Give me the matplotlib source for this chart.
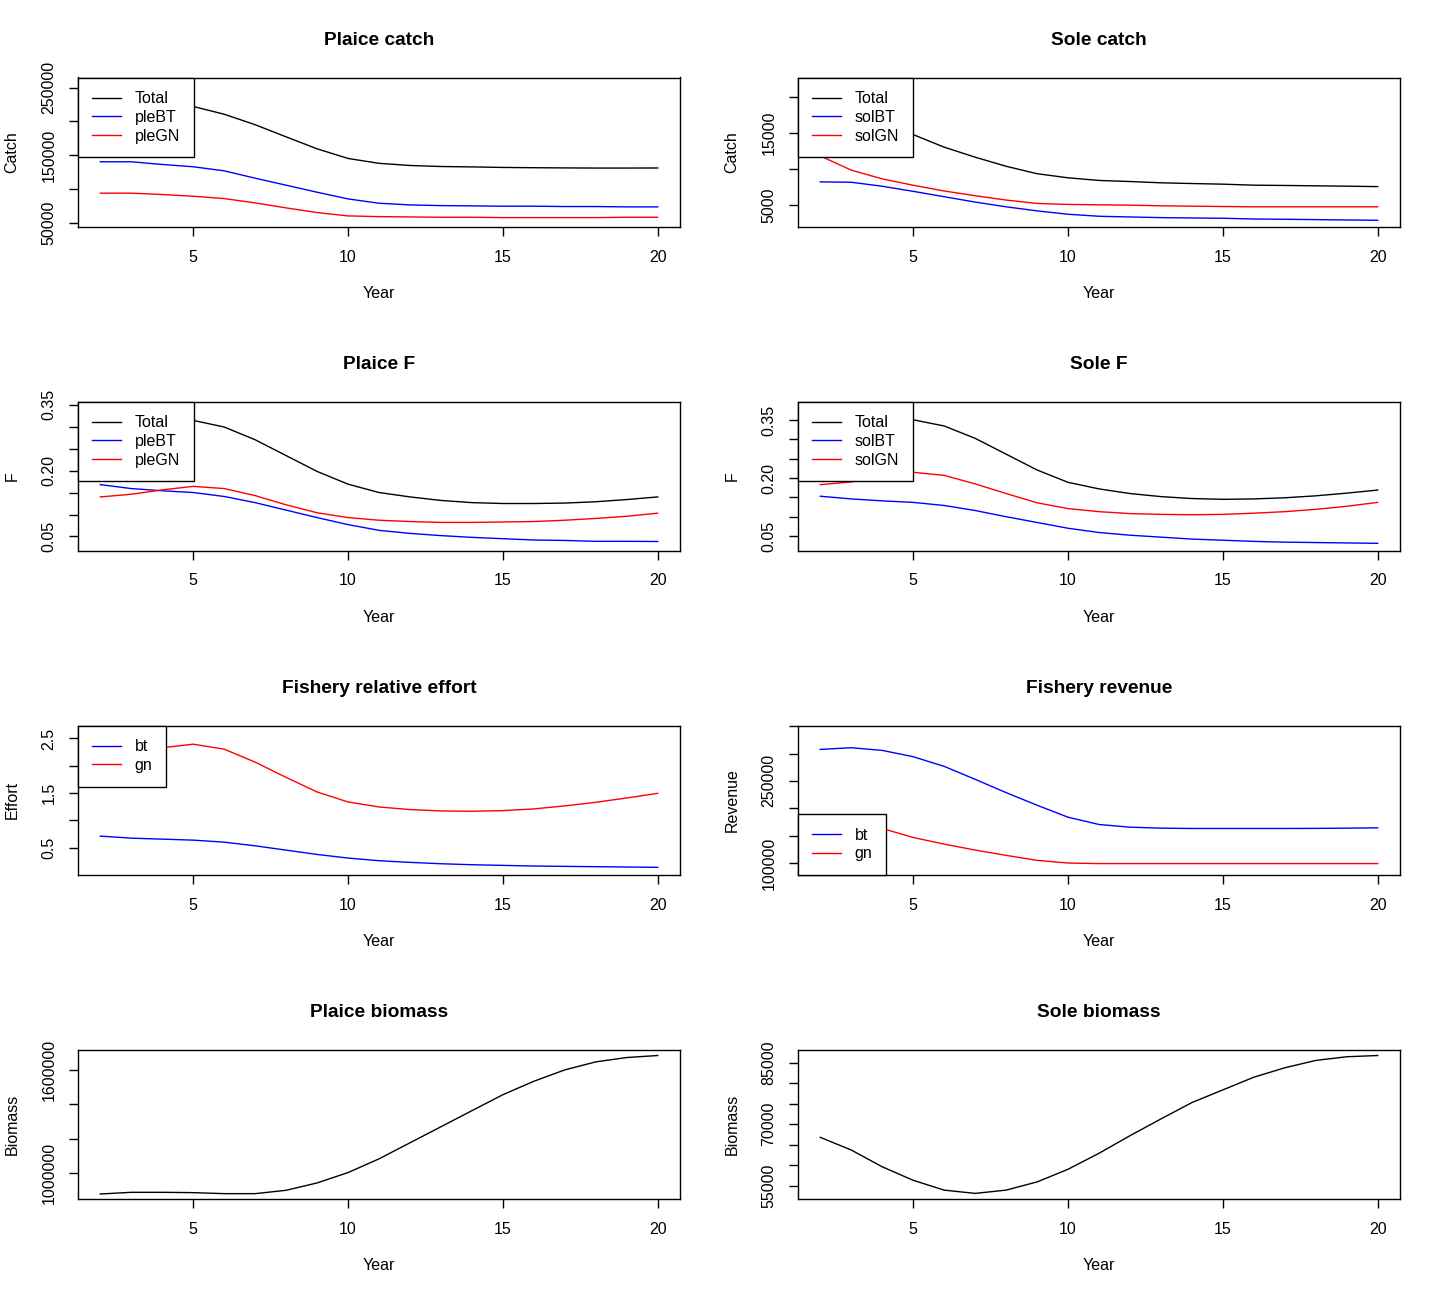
import numpy as np
import matplotlib.pyplot as plt

plt.rcParams['font.family'] = ['Liberation Sans', 'DejaVu Sans']

years = np.arange(2, 21)

# Plaice catch
ple_catch_total = [233700, 233700, 227700, 222000, 210500, 195000, 177000, 159300, 145000,
                   137800, 134600, 133100, 132500, 131700, 131300, 131000, 130800, 130800, 130900]
ple_catch_bt = [140100, 140100, 136100, 132700, 126700, 115800, 105400, 95000, 85100,
                78700, 76200, 75200, 74800, 74300, 74300, 73800, 73800, 73300, 73300]
ple_catch_gn = [93600, 93600, 91600, 89100, 85600, 79200, 71800, 64900, 59900,
                58900, 58400, 57900, 57900, 57400, 57400, 57400, 57400, 57900, 57900]

# Sole catch
sol_catch_total = [20020, 17990, 16210, 14800, 13050, 11650, 10380, 9340, 8770,
                   8400, 8250, 8070, 7970, 7880, 7740, 7700, 7650, 7600, 7540]
sol_catch_bt = [8200, 8150, 7590, 6880, 6130, 5380, 4720, 4150, 3680,
                3400, 3300, 3210, 3160, 3120, 3020, 2980, 2930, 2880, 2840]
sol_catch_gn = [11820, 9840, 8620, 7730, 6930, 6270, 5660, 5190, 5050,
                5000, 4950, 4860, 4810, 4760, 4720, 4720, 4720, 4720, 4720]

# Plaice F
ple_f_total = [0.308, 0.305, 0.310, 0.314, 0.299, 0.270, 0.234, 0.198, 0.169,
               0.150, 0.140, 0.132, 0.127, 0.125, 0.125, 0.126, 0.129, 0.134, 0.140]
ple_f_bt = [0.168, 0.159, 0.154, 0.150, 0.141, 0.127, 0.110, 0.093, 0.077,
            0.064, 0.057, 0.052, 0.048, 0.045, 0.042, 0.041, 0.039, 0.039, 0.0386]
ple_f_gn = [0.140, 0.146, 0.156, 0.164, 0.159, 0.143, 0.122, 0.104, 0.093,
            0.087, 0.084, 0.082, 0.082, 0.083, 0.084, 0.087, 0.091, 0.096, 0.103]

# Sole F
sol_f_total = [0.336, 0.336, 0.345, 0.351, 0.335, 0.303, 0.262, 0.221, 0.189,
               0.172, 0.160, 0.152, 0.147, 0.145, 0.146, 0.149, 0.154, 0.161, 0.169]
sol_f_bt = [0.153, 0.146, 0.141, 0.137, 0.129, 0.116, 0.100, 0.085, 0.070,
            0.059, 0.052, 0.047, 0.042, 0.039, 0.036, 0.034, 0.033, 0.032, 0.031]
sol_f_gn = [0.183, 0.190, 0.204, 0.215, 0.207, 0.185, 0.160, 0.136, 0.121,
            0.113, 0.108, 0.106, 0.105, 0.106, 0.109, 0.113, 0.119, 0.127, 0.137]

# Fishery relative effort
effort_bt = [0.713, 0.676, 0.658, 0.640, 0.603, 0.536, 0.457, 0.378, 0.312,
             0.263, 0.233, 0.208, 0.190, 0.178, 0.166, 0.160, 0.154, 0.148, 0.142]
effort_gn = [2.10, 2.18, 2.33, 2.395, 2.304, 2.067, 1.788, 1.521, 1.338,
             1.247, 1.199, 1.174, 1.168, 1.180, 1.211, 1.266, 1.332, 1.411, 1.496]

# Fishery revenue
revenue_bt = [307500, 310600, 305700, 294200, 276600, 252900, 228600, 205600, 183700,
              170400, 165500, 163700, 163100, 163100, 163100, 163100, 163300, 163700, 164300]
revenue_gn = [186000, 174000, 163100, 146700, 134600, 123700, 114000, 104900, 100000,
              99000, 99000, 99000, 99000, 99000, 99000, 99000, 99000, 99000, 99000]

# Biomass
ple_biomass = [879600, 889300, 889300, 887400, 881600, 881600, 901000, 943700, 1003900,
               1083500, 1176700, 1269900, 1363100, 1456000, 1534000, 1600000, 1646600, 1671800, 1683500]
sol_biomass = [66800, 63700, 59600, 56300, 53900, 53100, 53900, 55900, 59000,
               62900, 67200, 71300, 75300, 78400, 81500, 83800, 85600, 86500, 86800]

panels = [
    dict(title="Plaice catch", ylab="Catch",
         series=[(ple_catch_total, "black", "Total"), (ple_catch_bt, "blue", "pleBT"),
                 (ple_catch_gn, "red", "pleGN")],
         ylim=(43500, 264900), yticks=[50000, 100000, 150000, 200000, 250000],
         ylabels=["50000", "", "150000", "", "250000"], loc="upper left"),
    dict(title="Sole catch", ylab="Catch",
         series=[(sol_catch_total, "black", "Total"), (sol_catch_bt, "blue", "solBT"),
                 (sol_catch_gn, "red", "solGN")],
         ylim=(1900, 22775), yticks=[5000, 10000, 15000, 20000],
         ylabels=["5000", "", "15000", ""], loc="upper left"),
    dict(title="Plaice F", ylab="F",
         series=[(ple_f_total, "black", "Total"), (ple_f_bt, "blue", "pleBT"),
                 (ple_f_gn, "red", "pleGN")],
         ylim=(0.017, 0.357), yticks=[0.05, 0.10, 0.15, 0.20, 0.25, 0.30, 0.35],
         ylabels=["0.05", "", "", "0.20", "", "", "0.35"], loc="upper left"),
    dict(title="Sole F", ylab="F",
         series=[(sol_f_total, "black", "Total"), (sol_f_bt, "blue", "solBT"),
                 (sol_f_gn, "red", "solGN")],
         ylim=(0.0111, 0.3984), yticks=[0.05, 0.10, 0.15, 0.20, 0.25, 0.30, 0.35],
         ylabels=["0.05", "", "", "0.20", "", "", "0.35"], loc="upper left"),
    dict(title="Fishery relative effort", ylab="Effort",
         series=[(effort_bt, "blue", "bt"), (effort_gn, "red", "gn")],
         ylim=(0.002, 2.737), yticks=[0.5, 1.0, 1.5, 2.0, 2.5],
         ylabels=["0.5", "", "1.5", "", "2.5"], loc="upper left"),
    dict(title="Fishery revenue", ylab="Revenue",
         series=[(revenue_bt, "blue", "bt"), (revenue_gn, "red", "gn")],
         ylim=(78150, 351200), yticks=[100000, 150000, 200000, 250000, 300000, 350000],
         ylabels=["100000", "", "", "250000", "", ""], loc="lower left"),
    dict(title="Plaice biomass", ylab="Biomass",
         series=[(ple_biomass, "black", None)],
         ylim=(850500, 1718400), yticks=[1000000, 1200000, 1400000, 1600000],
         ylabels=["1000000", "", "", "1600000"], loc=None),
    dict(title="Sole biomass", ylab="Biomass",
         series=[(sol_biomass, "black", None)],
         ylim=(51730, 88270), yticks=[55000, 60000, 65000, 70000, 75000, 80000, 85000],
         ylabels=["55000", "", "", "70000", "", "", "85000"], loc=None),
]

W, H = 1440, 1296
box_w, box_h = 602, 149.5
fs = 11.52
fs_title = 13.82

fig = plt.figure(figsize=(W / 100, H / 100), dpi=100)

for i, p in enumerate(panels):
    row, col = divmod(i, 2)
    ax = fig.add_axes([(78 + 720 * col) / W, 1 - (227 + 324 * row) / H, box_w / W, box_h / H])
    for vals, color, lab in p["series"]:
        ax.plot(years, vals, color=color, lw=1.0, label=lab)
    ax.set_xlim(2 - 0.04 * 18, 20 + 0.04 * 18)
    ax.set_ylim(p["ylim"])
    ax.set_xticks([5, 10, 15, 20])
    ax.set_xticklabels(["5", "10", "15", "20"])
    ax.set_yticks(p["yticks"])
    ax.set_yticklabels(p["ylabels"], rotation=90, va="center")
    ax.tick_params(axis="both", direction="out", length=6.7, width=1.0, labelsize=fs)
    ax.tick_params(axis="x", pad=9.5)
    ax.tick_params(axis="y", pad=8.9)
    for s in ax.spines.values():
        s.set_linewidth(1.0)

    ax.set_title(p["title"], fontsize=fs_title, fontweight="bold",
                 y=1 + 37 / box_h, va="center", pad=0)
    ax.set_xlabel("Year", fontsize=fs)
    ax.xaxis.set_label_coords(0.5, -66.5 / box_h)
    ax.xaxis.label.set_va("center")
    ax.set_ylabel(p["ylab"], fontsize=fs)
    ax.yaxis.set_label_coords(-66 / box_w, 0.5)
    ax.yaxis.label.set_va("center")

    if p["loc"]:
        leg = ax.legend(loc=p["loc"], fontsize=fs, frameon=True, fancybox=False,
                        edgecolor="black", framealpha=1, borderaxespad=0,
                        handlelength=1.85, handletextpad=0.85, borderpad=0.85,
                        labelspacing=0.24)
        leg.get_frame().set_linewidth(1.0)

fig.savefig("out.png", dpi=100, facecolor="white")
